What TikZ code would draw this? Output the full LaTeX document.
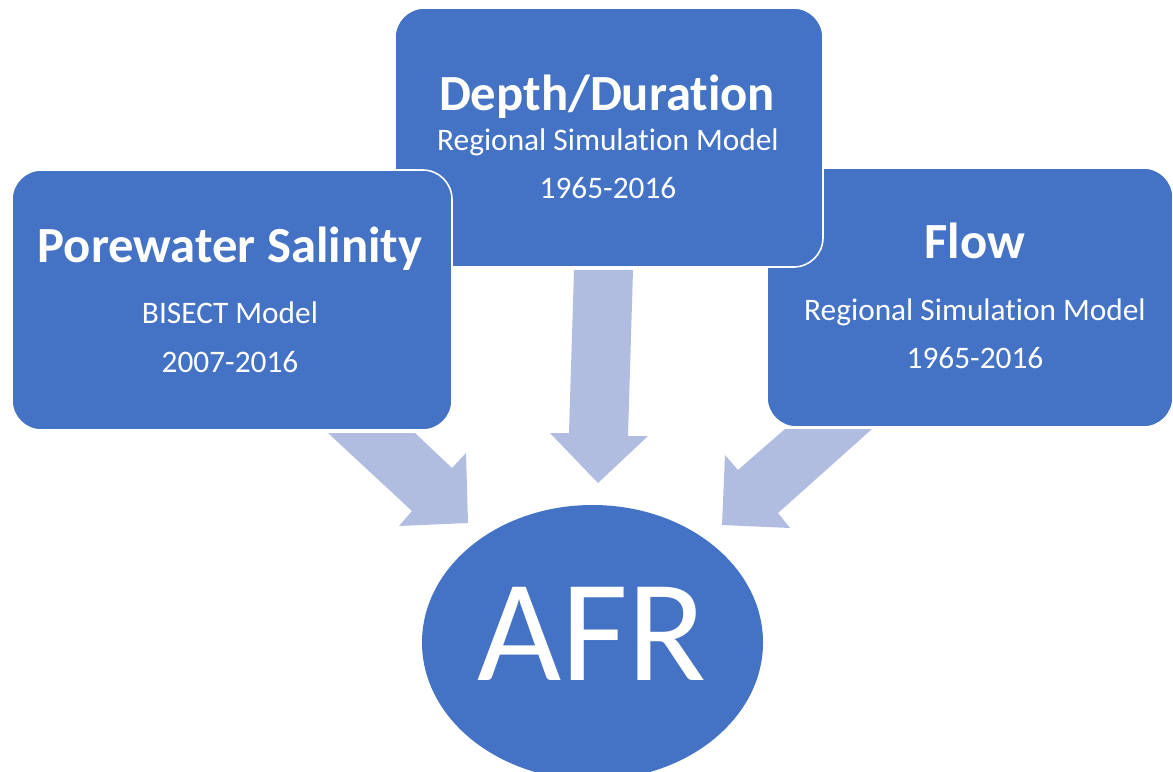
\documentclass[tikz,border=0pt]{standalone}
\usepackage{fontspec}
\setmainfont{Carlito}[RawFeature={-liga}]
\usetikzlibrary{shapes.geometric}
\definecolor{boxblue}{RGB}{68,114,196}
\definecolor{arrowblue}{RGB}{176,189,224}
\tikzset{
  card/.style={rectangle, rounded corners=22pt, fill=boxblue, draw=white, line width=1.2pt, inner sep=0pt},
  title/.style={anchor=base, inner sep=0pt, text=white, font=\fontsize{38}{44}\selectfont\bfseries},
  sub/.style={anchor=base, inner sep=0pt, text=white, font=\fontsize{23.5}{27}\selectfont},
  blockarrow/.style={fill=arrowblue, draw=none}
}
\begin{document}
\begin{tikzpicture}[x=0.75pt,y=-0.75pt]
\clip (0,0) rectangle (1173,771);
\fill[white] (0,0) rectangle (1173,771);
% block arrows (behind the boxes)
\fill[blockarrow] (574,270) -- (633,270) -- (628,436) -- (648,436) -- (598,483) -- (550,433) -- (569,433) -- cycle;
\fill[blockarrow] (328,433) -- (415,433) -- (452,468) -- (466,453) -- (468,523) -- (399,526) -- (412,511) -- cycle;
\fill[blockarrow] (785,429) -- (872,429) -- (778,513) -- (790,528) -- (722,525) -- (725,455) -- (738,470) -- cycle;
% boxes
\node[card, minimum width=406*0.75pt, minimum height=259*0.75pt] (flowbox) at (970,297.5) {};
\node[card, minimum width=428*0.75pt, minimum height=259*0.75pt] (depthbox) at (609,137.5) {};
\node[card, minimum width=440*0.75pt, minimum height=260*0.75pt] (salbox) at (232,300) {};
% texts
\node[title] (deptht) at (607,110) {Depth/Duration};
\node[sub] (depths1) at (608,150) {Regional Simulation Model};
\node[sub] (depths2) at (608,198) {1965-2016};
\node[title] (salt) at (230,262) {Porewater Salinity};
\node[sub] (sals1) at (230,323) {BISECT Model};
\node[sub] (sals2) at (230,372) {2007-2016};
\node[title] (flowt) at (975,258) {Flow};
\node[sub] (flows1) at (975,320) {Regional Simulation Model};
\node[sub] (flows2) at (975,368) {1965-2016};
% AFR
\node[ellipse, fill=boxblue, draw=none, minimum width=341*0.75pt, minimum height=275*0.75pt, inner sep=0pt] (afr) at (592.5,642.5) {};
\node[anchor=base, inner sep=0pt, text=white, font=\fontsize{109}{120}\selectfont] (afrt) at (592,680) {AFR};
\end{tikzpicture}
\end{document}
